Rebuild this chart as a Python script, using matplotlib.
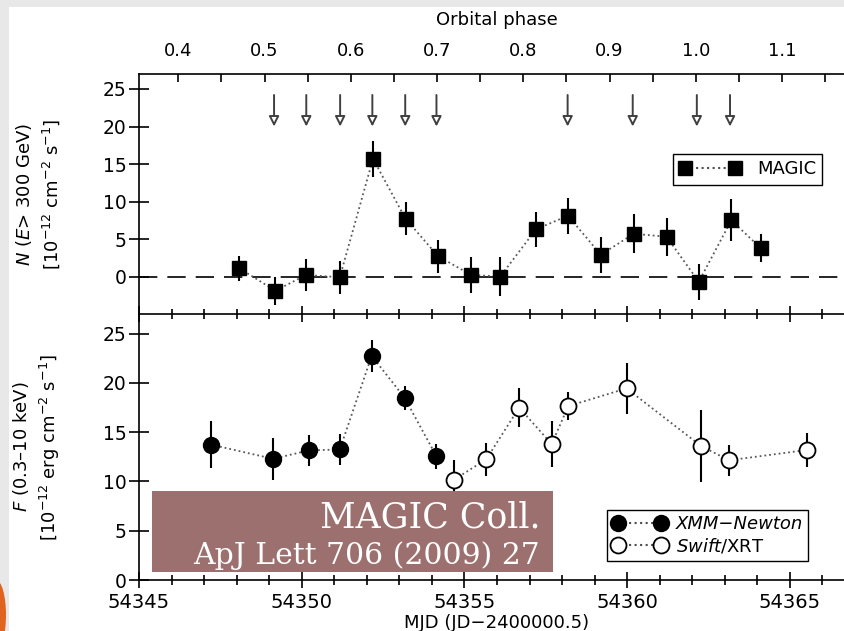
import numpy as np
import matplotlib.pyplot as plt
from matplotlib.patches import Rectangle, Ellipse
from matplotlib.ticker import MultipleLocator, FixedLocator

# MAGIC very high energy flux (top panel)
magic_mjd = [54348.08, 54349.19, 54350.13, 54351.17, 54352.19, 54353.19, 54354.19, 54355.21, 54356.10,
             54357.20, 54358.18, 54359.19, 54360.20, 54361.21, 54362.20, 54363.20, 54364.10]
magic_flux = [1.1, -1.9, 0.2, -0.1, 15.7, 7.7, 2.7, 0.2, 0.0, 6.3, 8.1, 2.9, 5.7, 5.3, -0.7, 7.5, 3.8]
magic_err = [1.7, 1.9, 2.1, 2.2, 2.4, 2.2, 2.2, 2.4, 2.6, 2.3, 2.4, 2.4, 2.6, 2.5, 2.4, 2.8, 1.9]

# arrows above the top panel
arrow_mjd = [54349.15, 54350.14, 54351.18, 54352.17, 54353.18, 54354.14, 54358.17, 54360.17, 54362.14, 54363.16]

# X-ray flux (bottom panel)
xmm_mjd = [54347.20, 54349.12, 54350.21, 54351.17, 54352.15, 54353.16, 54354.14]
xmm_flux = [13.75, 12.3, 13.15, 13.25, 22.75, 18.5, 12.55]
xmm_err = [2.4, 2.15, 1.6, 1.6, 1.6, 1.2, 1.3]

swift_mjd = [54354.69, 54355.67, 54356.68, 54357.68, 54358.19, 54359.98, 54362.27, 54363.13, 54365.53]
swift_flux = [10.2, 12.25, 17.5, 13.8, 17.65, 19.45, 13.6, 12.15, 13.2]
swift_err = [2.0, 1.65, 2.0, 2.35, 1.45, 2.6, 3.65, 1.55, 1.75]

# orbital phase axis
phase_ticks = [0.4, 0.5, 0.6, 0.7, 0.8, 0.9, 1.0, 1.1]
period = 26.496
mjd_phase04 = 54346.21

plt.rcParams['font.family'] = 'DejaVu Sans'
plt.rcParams['mathtext.fontset'] = 'dejavusans'

fig = plt.figure(figsize=(8.45, 6.31), dpi=100)
fig.patch.set_facecolor('#e8e8e8')
# white slide area
fig.patches.append(Rectangle((9 / 845, 0), 1, 1 - 7 / 631, transform=fig.transFigure,
                             facecolor='white', edgecolor='none', zorder=-10))
# orange corner decoration
fig.patches.append(Ellipse((-4 / 845, 16 / 631), 20 / 845, 70 / 631, transform=fig.transFigure,
                           facecolor='#e0641e', edgecolor='none', zorder=-9))

ax1 = fig.add_axes([139 / 845, 1 - 314 / 631, 716 / 845, 240 / 631])
ax2 = fig.add_axes([139 / 845, 1 - 580 / 631, 716 / 845, 266 / 631], sharex=ax1)
for ax in (ax1, ax2):
    ax.set_facecolor('none')

# Top panel: MAGIC
ax1.axhline(0, color='black', linestyle=(0, (11, 6)), linewidth=1.2, zorder=1)
ax1.plot(magic_mjd, magic_flux, linestyle=':', color='0.35', linewidth=1.3, zorder=2)
ax1.errorbar(magic_mjd, magic_flux, yerr=magic_err, fmt='none', ecolor='black', elinewidth=1.5, capsize=0, zorder=3)
ax1.plot(magic_mjd, magic_flux, 's', color='black', markersize=10.5, zorder=4)
ax1.plot([], [], 's:', color='0.3', markersize=10.5, mfc='black', mec='black', label='MAGIC')
for m in arrow_mjd:
    ax1.annotate('', xy=(m, 20.0), xytext=(m, 24.2),
                 arrowprops=dict(arrowstyle='-|>,head_length=0.6,head_width=0.3',
                                 facecolor='white', edgecolor='0.25', lw=1.4, shrinkA=0, shrinkB=0))
leg1 = ax1.legend(loc='upper left', bbox_to_anchor=((673 - 139) / 716, 1 - (154 - 74) / 240), borderaxespad=0,
                  numpoints=2, handlelength=3.4, fontsize=13, fancybox=False, edgecolor='black',
                  framealpha=1, borderpad=0.35, handletextpad=0.9)
leg1.get_frame().set_linewidth(1.0)

ax1.set_ylim(-5, 27)
ax1.set_yticks([0, 5, 10, 15, 20, 25])
ax1.set_ylabel('$N$ ($E$> 300 GeV)\n[10$^{-12}$ cm$^{-2}$ s$^{-1}$]', fontsize=13, linespacing=1.35)
ax1.tick_params(axis='x', which='both', labelbottom=False, direction='in')

# Top axis: orbital phase
def to_phase(x):
    return 0.4 + (x - mjd_phase04) / period

def to_mjd(p):
    return mjd_phase04 + (p - 0.4) * period

secax = ax1.secondary_xaxis('top', functions=(to_phase, to_mjd))
secax.xaxis.set_major_locator(FixedLocator(phase_ticks))
secax.xaxis.set_minor_locator(FixedLocator(np.array(phase_ticks) + 0.05))
secax.set_xticklabels(['%.1f' % p for p in phase_ticks])
secax.tick_params(which='both', direction='in', length=6, width=1.2, labelsize=13, pad=10)
secax.set_xlabel('Orbital phase', fontsize=13, labelpad=12)
secax.spines['top'].set_linewidth(1.2)

# Bottom panel: X-rays
ax2.plot(xmm_mjd, xmm_flux, linestyle=':', color='0.35', linewidth=1.3, zorder=2)
ax2.plot(swift_mjd, swift_flux, linestyle=':', color='0.35', linewidth=1.3, zorder=2)
ax2.errorbar(xmm_mjd, xmm_flux, yerr=xmm_err, fmt='none', ecolor='black', elinewidth=1.5, capsize=0, zorder=3)
ax2.errorbar(swift_mjd, swift_flux, yerr=swift_err, fmt='none', ecolor='black', elinewidth=1.5, capsize=0, zorder=3)
ax2.plot(xmm_mjd, xmm_flux, 'o', color='black', markersize=11.5, zorder=4)
ax2.plot(swift_mjd, swift_flux, 'o', mfc='white', mec='black', mew=1.3, markersize=11.5, zorder=4)
ax2.plot([], [], 'o:', color='0.3', mfc='black', mec='black', markersize=11.5, label='XMM\u2212Newton')
ax2.plot([], [], 'o:', color='0.3', mfc='white', mec='black', mew=1.3, markersize=11.5, label='$\\it{Swift}$/XRT')
leg2 = ax2.legend(loc='upper left', bbox_to_anchor=((607 - 139) / 716, 1 - (510 - 314) / 266), borderaxespad=0,
                  numpoints=2, handlelength=3.0, fontsize=13, fancybox=False, edgecolor='black',
                  framealpha=1, borderpad=0.3, handletextpad=0.5, labelspacing=0.15)
leg2.get_frame().set_linewidth(1.0)
leg2.get_texts()[0].set_style('italic')

ax2.set_ylim(0, 27)
ax2.set_yticks([0, 5, 10, 15, 20, 25])
ax2.set_ylabel('$F$ (0.3\u201310 keV)\n[10$^{-12}$ erg cm$^{-2}$ s$^{-1}$]', fontsize=13, linespacing=1.35)
ax2.set_xlabel('MJD (JD\u22122400000.5)', fontsize=13, labelpad=1)

ax2.set_xlim(54345, 54367)
ax2.xaxis.set_major_locator(MultipleLocator(5))
ax2.xaxis.set_minor_locator(MultipleLocator(1))
ax2.xaxis.set_major_formatter(plt.FormatStrFormatter('%d'))

for ax in (ax1, ax2):
    ax.tick_params(axis='y', direction='inout', length=14, width=1.2, labelsize=13.5, pad=2)
    ax.tick_params(axis='x', which='major', direction='inout', length=12, width=1.2, labelsize=14)
    ax.tick_params(axis='x', which='minor', direction='inout', length=7, width=1.2)
    ax.spines['right'].set_visible(False)
    for s in ('left', 'bottom', 'top'):
        ax.spines[s].set_linewidth(1.2)
    ax.yaxis.set_label_coords(-0.108, 0.5)
ax1.spines['top'].set_visible(False)
ax2.spines['top'].set_visible(False)

# citation box
fig.patches.append(Rectangle((152 / 845, 1 - 572 / 631), 401 / 845, 81 / 631, transform=fig.transFigure,
                             facecolor='#9b706e', edgecolor='none', zorder=5))
fig.text(540 / 845, 1 - 528 / 631, 'MAGIC Coll.', ha='right', va='baseline', color='white',
         fontsize=25, family='DejaVu Serif', zorder=6)
fig.text(540 / 845, 1 - 564 / 631, 'ApJ Lett 706 (2009) 27', ha='right', va='baseline', color='white',
         fontsize=21.5, family='DejaVu Serif', zorder=6)

plt.savefig('out.png', dpi=100, facecolor=fig.get_facecolor())
